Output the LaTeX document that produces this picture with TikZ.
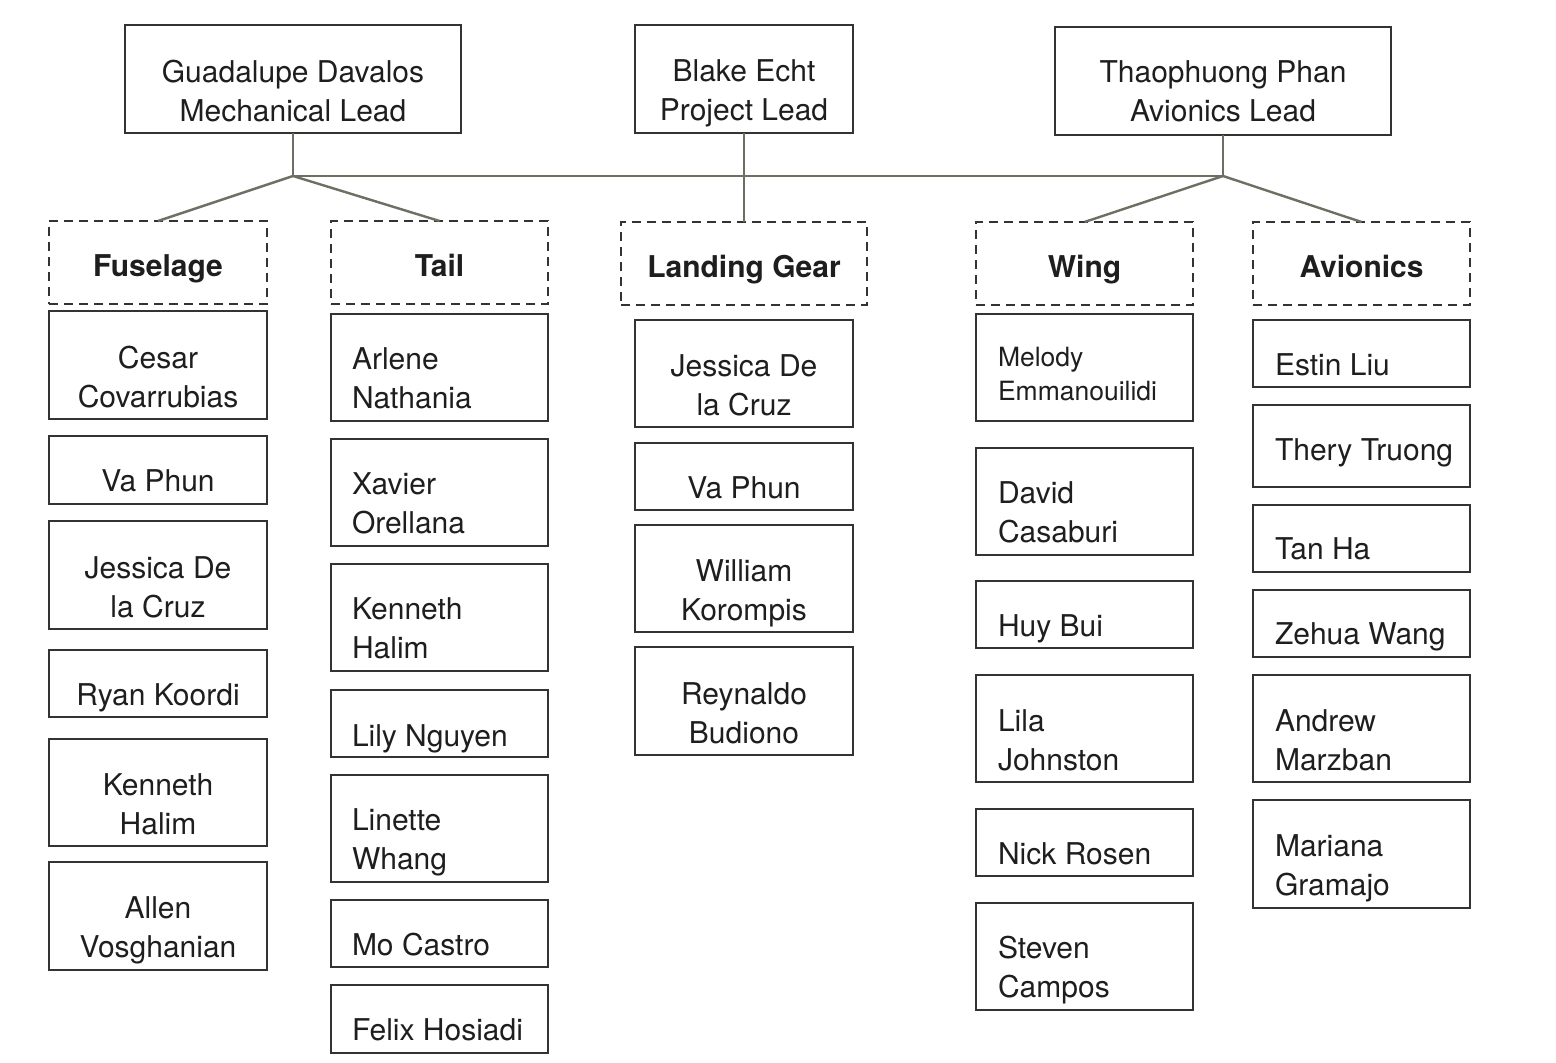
\documentclass[tikz,border=0pt]{standalone}
\usepackage{fontspec}
\setmainfont{TeX Gyre Heros}
\definecolor{bordc}{HTML}{333333}
\definecolor{linec}{HTML}{6E6E62}
\definecolor{txtc}{HTML}{1E1E1E}
\newcommand\bigfs{\fontsize{30}{39.5}\selectfont}
\newcommand\smallfs{\fontsize{26.5}{34}\selectfont}
\newcommand\firstline{\rule{0pt}{23pt}}
\tikzset{
  person/.style={draw=bordc, line width=2.3pt, fill=white, inner sep=0pt, outer sep=0pt},
  team/.style={person, dash pattern=on 9pt off 6pt},
  conn/.style={draw=linec, line width=2.4pt},
  lbl/.style={inner sep=0pt, outer sep=0pt, font=\bigfs, text=txtc},
}
% style, name, x1, y1, x2, y2
\newcommand\boxnode[6]{%
  \node[#1, minimum width={#5-#3}, minimum height={#6-#4}] (#2) at ({(#3+#5)/2},{(#4+#6)/2}) {};}
% name, x, first baseline, text
\newcommand\ctext[4]{\node[lbl, anchor=north, align=center] (#1) at (#2,{#3-23}) {\firstline#4};}
\newcommand\ltext[4]{\node[lbl, anchor=north west, align=left] (#1) at (#2,{#3-23}) {\firstline#4};}
\begin{document}
\begin{tikzpicture}[x=1pt,y=-1pt]
\useasboundingbox (0,0) rectangle (1556,1063);
\fill[white] (0,0) rectangle (1556,1063);

% leads
\boxnode{person}{gd}{125}{25}{461}{133}
\ctext{gdt}{293}{82}{Guadalupe Davalos\\Mechanical Lead}
\boxnode{person}{be}{635}{25}{853}{133}
\ctext{bet}{744}{81}{Blake Echt\\Project Lead}
\boxnode{person}{tp}{1055}{27}{1391}{135}
\ctext{tpt}{1223}{82}{Thaophuong Phan\\Avionics Lead}

% teams
\boxnode{team}{fus}{49}{221}{267}{304}
\ctext{fust}{158}{276}{\bfseries Fuselage}
\boxnode{team}{tail}{331}{221}{548}{304}
\ctext{tailt}{439.5}{276}{\bfseries Tail}
\boxnode{team}{lgh}{621}{222}{867}{305}
\ctext{lght}{744}{277}{\bfseries Landing Gear}
\boxnode{team}{wing}{976}{222}{1193}{305}
\ctext{wingt}{1084.5}{277}{\bfseries Wing}
\boxnode{team}{avh}{1253}{222}{1470}{305}
\ctext{avht}{1361.5}{277}{\bfseries Avionics}

% connectors
\coordinate (j1) at (293,176);
\coordinate (j2) at (1223,176);
\draw[conn] (gd.south) -- (j1);
\draw[conn] (j1) -- (j2);
\draw[conn] (tp.south) -- (j2);
\draw[conn] (j1) -- (fus.north);
\draw[conn] (j1) -- (tail.north);
\draw[conn] (be.south) -- (lgh.north);
\draw[conn] (j2) -- (wing.north);
\draw[conn] (j2) -- (avh.north);

% Fuselage
\boxnode{person}{fus1}{49}{311}{267}{419}
\ctext{fus1t}{158}{368}{Cesar\\Covarrubias}
\boxnode{person}{fus2}{49}{436}{267}{504}
\ctext{fus2t}{158}{491}{Va Phun}
\boxnode{person}{fus3}{49}{521}{267}{629}
\ctext{fus3t}{158}{578}{Jessica De\\la Cruz}
\boxnode{person}{fus4}{49}{650}{267}{717}
\ctext{fus4t}{158}{705}{Ryan Koordi}
\boxnode{person}{fus5}{49}{739}{267}{846}
\ctext{fus5t}{158}{795}{Kenneth\\Halim}
\boxnode{person}{fus6}{49}{862}{267}{970}
\ctext{fus6t}{158}{918}{Allen\\Vosghanian}

% Tail
\boxnode{person}{tl1}{331}{314}{548}{421}
\ltext{tl1t}{352}{369}{Arlene\\Nathania}
\boxnode{person}{tl2}{331}{439}{548}{546}
\ltext{tl2t}{352}{494}{Xavier\\Orellana}
\boxnode{person}{tl3}{331}{564}{548}{671}
\ltext{tl3t}{352}{619}{Kenneth\\Halim}
\boxnode{person}{tl4}{331}{690}{548}{757}
\ltext{tl4t}{352}{746}{Lily Nguyen}
\boxnode{person}{tl5}{331}{775}{548}{882}
\ltext{tl5t}{352}{830}{Linette\\Whang}
\boxnode{person}{tl6}{331}{900}{548}{967}
\ltext{tl6t}{352}{955}{Mo Castro}
\boxnode{person}{tl7}{331}{985}{548}{1053}
\ltext{tl7t}{352}{1040}{Felix Hosiadi}

% Landing Gear
\boxnode{person}{lg1}{635}{320}{853}{427}
\ctext{lg1t}{744}{376}{Jessica De\\la Cruz}
\boxnode{person}{lg2}{635}{443}{853}{510}
\ctext{lg2t}{744}{498}{Va Phun}
\boxnode{person}{lg3}{635}{525}{853}{632}
\ctext{lg3t}{744}{581}{William\\Korompis}
\boxnode{person}{lg4}{635}{647}{853}{755}
\ctext{lg4t}{744}{704}{Reynaldo\\Budiono}

% Wing
\boxnode{person}{wg1}{976}{314}{1193}{421}
\node[lbl, font=\smallfs, anchor=north west, align=left] (wg1t) at (998,{366-23}) {\firstline Melody\\Emmanouilidi};
\boxnode{person}{wg2}{976}{448}{1193}{555}
\ltext{wg2t}{998}{503}{David\\Casaburi}
\boxnode{person}{wg3}{976}{581}{1193}{648}
\ltext{wg3t}{998}{636}{Huy Bui}
\boxnode{person}{wg4}{976}{675}{1193}{782}
\ltext{wg4t}{998}{731}{Lila\\Johnston}
\boxnode{person}{wg5}{976}{809}{1193}{876}
\ltext{wg5t}{998}{864}{Nick Rosen}
\boxnode{person}{wg6}{976}{903}{1193}{1010}
\ltext{wg6t}{998}{958}{Steven\\Campos}

% Avionics
\boxnode{person}{av1}{1253}{320}{1470}{387}
\ltext{av1t}{1275}{375}{Estin Liu}
\boxnode{person}{av2}{1253}{405}{1470}{487}
\ltext{av2t}{1275}{460}{Thery Truong}
\boxnode{person}{av3}{1253}{505}{1470}{572}
\ltext{av3t}{1275}{559}{Tan Ha}
\boxnode{person}{av4}{1253}{590}{1470}{657}
\ltext{av4t}{1275}{644}{Zehua Wang}
\boxnode{person}{av5}{1253}{675}{1470}{782}
\ltext{av5t}{1275}{731}{Andrew\\Marzban}
\boxnode{person}{av6}{1253}{800}{1470}{908}
\ltext{av6t}{1275}{856}{Mariana\\Gramajo}
\end{tikzpicture}
\end{document}
